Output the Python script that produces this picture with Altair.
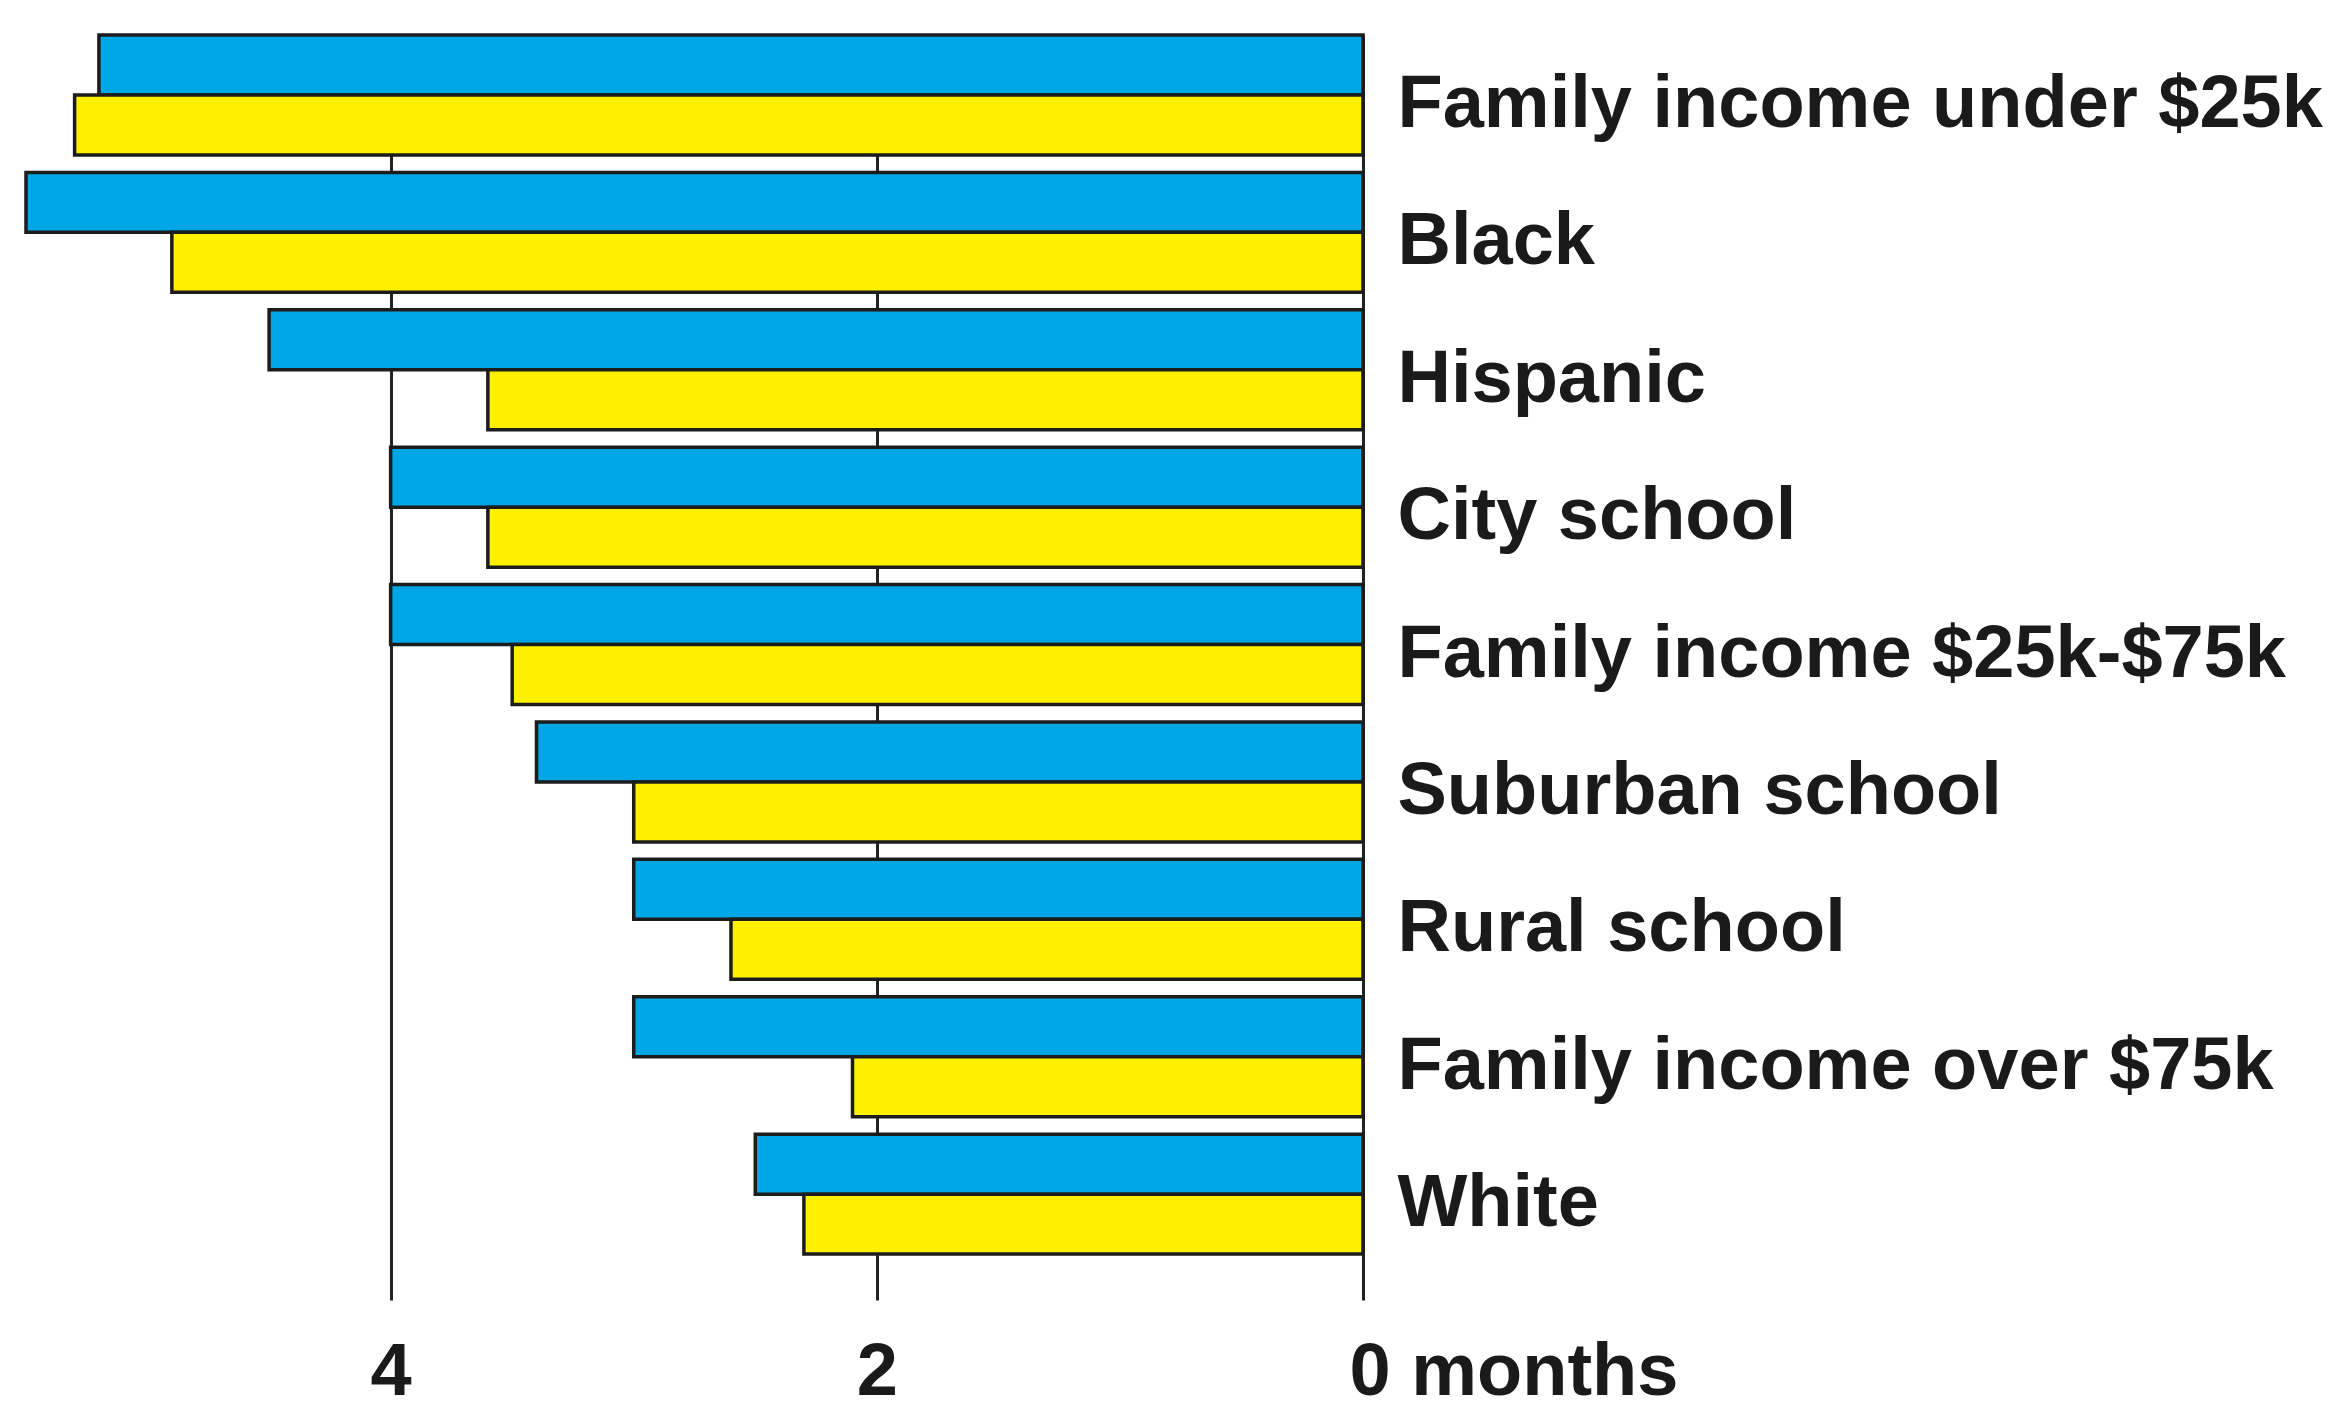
import altair as alt
import pandas as pd

categories = [
    "Family income under $25k",
    "Black",
    "Hispanic",
    "City school",
    "Family income $25k-$75k",
    "Suburban school",
    "Rural school",
    "Family income over $75k",
    "White",
]
series_names = ["Series 1", "Series 2"]
blue_values = [5.2, 5.5, 4.5, 4.0, 4.0, 3.4, 3.0, 3.0, 2.5]
yellow_values = [5.3, 4.9, 3.6, 3.6, 3.5, 3.0, 2.6, 2.1, 2.3]
tick_values = [0, 2, 4]
colors = ["#00A7E6", "#FFF000"]

rows = []
for c, b, y in zip(categories, blue_values, yellow_values):
    rows.append({"category": c, "series": series_names[0], "value": b})
    rows.append({"category": c, "series": series_names[1], "value": y})
df = pd.DataFrame(rows)

FONT = "Liberation Sans"
TXT = "#1a1a1a"

chart = (
    alt.Chart(df)
    .mark_bar(stroke="#1c1c1c", strokeWidth=3.5)
    .encode(
        x=alt.X(
            "value:Q",
            scale=alt.Scale(domain=[0, 5.5], reverse=True, nice=False),
            axis=alt.Axis(
                values=tick_values,
                grid=True,
                gridColor="#222222",
                gridWidth=3,
                domain=False,
                ticks=False,
                title=None,
                labelFont=FONT,
                labelFontSize=74,
                labelFontWeight="bold",
                labelColor=TXT,
                labelPadding=36,
                labelLimit=0,
                labelOverlap=False,
                labelExpr="datum.value == 0 ? '0 months' : datum.label",
                labelAlign={"expr": "datum.value == 0 ? 'left' : 'center'"},
                labelOffset={"expr": "datum.value == 0 ? -14 : 0"},
            ),
        ),
        y=alt.Y(
            "category:N",
            sort=categories,
            scale=alt.Scale(paddingInner=0.127, paddingOuter=0.167, align=0),
            axis=alt.Axis(
                orient="right",
                domain=False,
                ticks=False,
                title=None,
                labelFont=FONT,
                labelFontSize=74,
                labelFontWeight="bold",
                labelColor=TXT,
                labelPadding=34,
                labelOffset=10,
                labelLimit=0,
            ),
        ),
        yOffset=alt.YOffset(
            "series:N",
            sort=series_names,
            scale=alt.Scale(paddingInner=0, paddingOuter=0),
        ),
        color=alt.Color(
            "series:N",
            scale=alt.Scale(domain=series_names, range=colors),
            legend=None,
        ),
    )
    .properties(
        width=1337,
        height=1265,
        padding={"left": 16, "top": 25, "right": 0, "bottom": 0},
        background="white",
    )
    .configure_view(stroke=None)
)

chart.save("out.html", embed_options={"renderer": "svg", "actions": False})
